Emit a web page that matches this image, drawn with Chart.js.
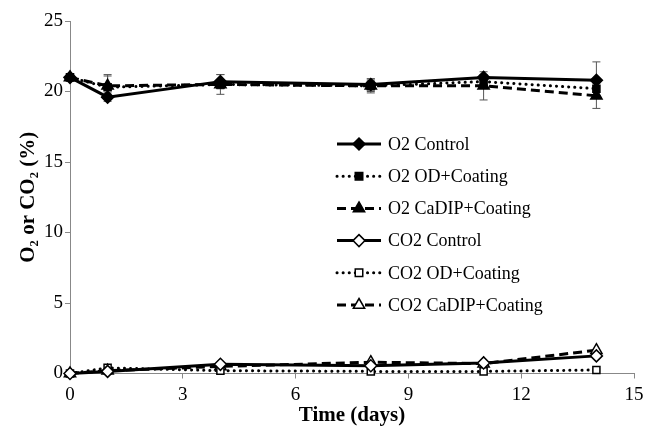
<!DOCTYPE html>
<html><head><meta charset="utf-8">
<script src="https://cdn.jsdelivr.net/npm/chart.js@4/dist/chart.umd.min.js"></script>
<style>html,body{margin:0;padding:0;background:#fff;}#wrap{width:650px;height:428px;}</style>
</head><body><div id="wrap"><canvas id="c" width="650" height="428"></canvas></div>
<script>
const days = [0, 1, 4, 8, 11, 14];
const xTicks = [0, 3, 6, 9, 12, 15];
const yTicks = [0, 5, 10, 15, 20, 25];
const o2Control = [21.0, 19.6, 20.7, 20.5, 21.0, 20.8];
const o2OD      = [21.0, 20.3, 20.5, 20.4, 20.7, 20.2];
const o2CaDIP   = [21.0, 20.4, 20.5, 20.4, 20.4, 19.7];
const co2Control = [0, 0.15, 0.65, 0.55, 0.75, 1.25];
const co2OD      = [0, 0.40, 0.20, 0.15, 0.15, 0.25];
const co2CaDIP   = [0, 0.20, 0.50, 0.80, 0.70, 1.65];
const o2ControlErr = [0.1, 0.3, 0.5, 0.4, 0.2, 1.3];
const o2ODErr      = [0.1, 0.8, 0.3, 0.4, 0.3, 0.5];
const o2CaDIPErr   = [0.1, 0.8, 0.7, 0.5, 1.0, 0.9];
const labels = ['O2 Control','O2 OD+Coating','O2 CaDIP+Coating','CO2 Control','CO2 OD+Coating','CO2 CaDIP+Coating'];

const FONT = '"Liberation Serif", "Times New Roman", serif';
const pts = arr => days.map((d, i) => ({x: d, y: arr[i]}));
const styles = [
  {dash: [], cap: 'butt', shape: 'rectRot', fill: '#000', r: 6},
  {dash: [0.1, 6], cap: 'round', shape: 'rect', fill: '#000', r: 5},
  {dash: [9, 5], cap: 'butt', shape: 'triangle', fill: '#000', r: 6.5},
  {dash: [], cap: 'butt', shape: 'rectRot', fill: '#fff', r: 6},
  {dash: [0.1, 6], cap: 'round', shape: 'rect', fill: '#fff', r: 5},
  {dash: [9, 5], cap: 'butt', shape: 'triangle', fill: '#fff', r: 6.5}
];
const series = [o2Control, o2OD, o2CaDIP, co2Control, co2OD, co2CaDIP];
const errs = [o2ControlErr, o2ODErr, o2CaDIPErr, null, null, null];

const datasets = series.map((s, i) => ({
  label: labels[i],
  data: pts(s),
  borderColor: '#000',
  borderWidth: 3,
  borderDash: styles[i].dash,
  borderCapStyle: styles[i].cap,
  pointStyle: styles[i].shape,
  pointRadius: styles[i].r,
  pointBackgroundColor: styles[i].fill,
  pointBorderColor: '#000',
  pointBorderWidth: 1.5,
  tension: 0,
  fill: false,
  clip: false,
  errors: errs[i]
}));

function drawMarker(ctx, shape, x, y, r, fill) {
  ctx.save();
  ctx.fillStyle = fill; ctx.strokeStyle = '#000'; ctx.lineWidth = 1.5; ctx.setLineDash([]);
  ctx.beginPath();
  if (shape === 'rectRot') {
    ctx.moveTo(x, y - r); ctx.lineTo(x + r, y); ctx.lineTo(x, y + r); ctx.lineTo(x - r, y); ctx.closePath();
  } else if (shape === 'rect') {
    const h = r * 0.75; ctx.rect(x - h, y - h, 2 * h, 2 * h);
  } else {
    ctx.moveTo(x, y - r); ctx.lineTo(x + r * 0.87, y + r * 0.5); ctx.lineTo(x - r * 0.87, y + r * 0.5); ctx.closePath();
  }
  ctx.fill(); ctx.stroke();
  ctx.restore();
}

const errorBars = {
  id: 'errorBars',
  beforeDatasetsDraw(chart) {
    const ctx = chart.ctx, xs = chart.scales.x, ys = chart.scales.y;
    ctx.save();
    ctx.strokeStyle = '#555'; ctx.lineWidth = 1; ctx.setLineDash([]);
    chart.data.datasets.forEach(ds => {
      if (!ds.errors) return;
      ds.data.forEach((p, i) => {
        const e = ds.errors[i];
        const px = xs.getPixelForValue(p.x);
        const top = ys.getPixelForValue(p.y + e), bot = ys.getPixelForValue(p.y - e);
        ctx.beginPath();
        ctx.moveTo(px, top); ctx.lineTo(px, bot);
        ctx.moveTo(px - 4, top); ctx.lineTo(px + 4, top);
        ctx.moveTo(px - 4, bot); ctx.lineTo(px + 4, bot);
        ctx.stroke();
      });
    });
    ctx.restore();
  }
};

const customLegend = {
  id: 'customLegend',
  afterDraw(chart) {
    const ctx = chart.ctx;
    const x0 = 337, x1 = 381, tx = 388, y0 = 144, dy = 32.2;
    ctx.save();
    chart.data.datasets.forEach((ds, i) => {
      const y = y0 + i * dy;
      ctx.strokeStyle = '#000'; ctx.lineWidth = 3;
      ctx.setLineDash(ds.borderDash); ctx.lineCap = ds.borderCapStyle;
      ctx.beginPath(); ctx.moveTo(x0, y); ctx.lineTo(x1, y); ctx.stroke();
      drawMarker(ctx, ds.pointStyle, (x0 + x1) / 2, y, ds.pointRadius, ds.pointBackgroundColor);
      ctx.setLineDash([]);
      ctx.fillStyle = '#000'; ctx.font = '18px ' + FONT;
      ctx.textAlign = 'left'; ctx.textBaseline = 'middle';
      ctx.fillText(ds.label, tx, y + 1);
    });
    ctx.restore();
  }
};

new Chart(document.getElementById('c'), {
  type: 'line',
  data: {datasets},
  plugins: [errorBars, customLegend],
  options: {
    responsive: false,
    animation: false,
    layout: {padding: {top: 21, right: 16, left: 16, bottom: 0}},
    plugins: {legend: {display: false}, tooltip: {enabled: false}},
    scales: {
      x: {
        type: 'linear', min: 0, max: 15,
        afterBuildTicks: s => { s.ticks = xTicks.map(v => ({value: v})); },
        afterFit: s => { s.height = 54.5; },
        border: {color: '#888', width: 1},
        grid: {display: true, drawOnChartArea: false, drawTicks: true, tickLength: 5, color: '#888'},
        ticks: {color: '#000', font: {family: FONT, size: 19}, padding: 5, maxRotation: 0},
        title: {display: true, text: 'Time (days)', color: '#000', font: {family: FONT, size: 21, weight: 'bold'}, padding: {top: 0, bottom: 0}}
      },
      y: {
        min: 0, max: 25,
        afterBuildTicks: s => { s.ticks = yTicks.map(v => ({value: v})); },
        afterFit: s => { s.width = 54; },
        border: {color: '#888', width: 1},
        grid: {display: true, drawOnChartArea: false, drawTicks: true, tickLength: 5, color: '#888'},
        ticks: {color: '#000', font: {family: FONT, size: 19}, padding: 2},
        title: {display: true, text: 'O₂ or CO₂ (%)', color: '#000', font: {family: FONT, size: 21, weight: 'bold'}, padding: {top: 0, bottom: 0}}
      }
    }
  }
});
</script></body></html>
